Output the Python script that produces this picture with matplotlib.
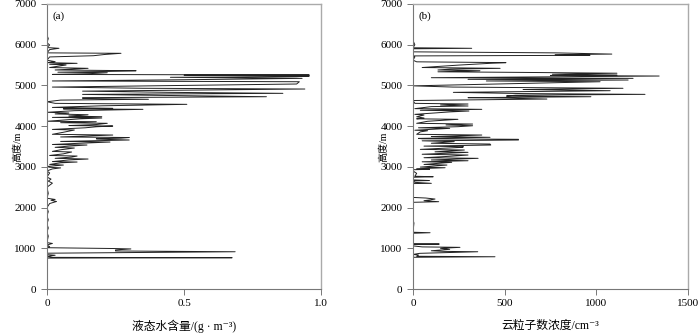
import matplotlib
matplotlib.use('Agg')
import matplotlib.pyplot as plt

plt.rcParams['font.family'] = ['Liberation Serif', 'Noto Sans CJK SC', 'DejaVu Serif']

# (a) liquid water content profile, g/m3
alt_a = [760, 769, 778, 800, 830, 845, 880, 916, 925, 935, 960, 985, 995, 1005, 1015,
         1040, 1080, 1120, 1140, 1300, 1400, 1500, 1600, 1700, 1800, 1900, 2000, 2100,
         2150, 2180, 2200, 2230, 2350, 2500, 2550, 2600, 2650, 2700, 2750, 2850, 2900,
         2950, 2975, 2990, 3010, 3045, 3060, 3100, 3119, 3130, 3170, 3193, 3210, 3240,
         3266, 3280, 3320, 3365, 3380, 3420, 3463, 3480, 3510, 3537, 3550, 3580, 3610,
         3625, 3660, 3675, 3690, 3705, 3721, 3735, 3760, 3782, 3800, 3850, 3905, 3920,
         3960, 3985, 4003, 4015, 4040, 4070, 4085, 4109, 4120, 4150, 4180, 4200, 4215,
         4232, 4250, 4280, 4300, 4323, 4340, 4380, 4413, 4425, 4438, 4460, 4500, 4536,
         4560, 4600, 4640, 4660, 4680, 4700, 4723, 4760, 4780, 4806, 4830, 4860, 4890,
         4912, 4930, 4960, 5035, 5091, 5110, 5140, 5174, 5200, 5215, 5231, 5250, 5256,
         5270, 5290, 5312, 5325, 5345, 5361, 5380, 5420, 5440, 5480, 5502, 5520, 5543,
         5560, 5584, 5620, 5700, 5730, 5760, 5789, 5800, 5880, 5912, 5930, 5993, 6050,
         6150, 6240]
lwc = [0.0, 0.675, 0.02, 0.0, 0.03, 0.0, 0.0, 0.686, 0.50, 0.25, 0.25, 0.306, 0.245, 0.12, 0.0,
       0.01, 0.0, 0.02, 0.0, 0.005, 0.0, 0.005, 0.0, 0.005, 0.0, 0.005, 0.0, 0.01,
       0.035, 0.015, 0.03, 0.0, 0.005, 0.0, 0.01, 0.02, 0.005, 0.015, 0.0, 0.01, 0.0,
       0.02, 0.05, 0.01, 0.0, 0.06, 0.01, 0.05, 0.11, 0.02, 0.08, 0.15, 0.03, 0.09,
       0.11, 0.01, 0.06, 0.09, 0.02, 0.05, 0.10, 0.03, 0.08, 0.146, 0.02, 0.12, 0.23,
       0.05, 0.30, 0.22, 0.18, 0.27, 0.30, 0.05, 0.15, 0.24, 0.02, 0.06, 0.10, 0.02,
       0.14, 0.18, 0.24, 0.08, 0.18, 0.22, 0.05, 0.18, 0.0, 0.06, 0.12, 0.20, 0.02,
       0.20, 0.08, 0.15, 0.03, 0.08, 0.0, 0.10, 0.35, 0.06, 0.24, 0.02, 0.20, 0.51,
       0.03, 0.0, 0.05, 0.37, 0.13, 0.13, 0.80, 0.35, 0.13, 0.86, 0.45, 0.13, 0.60,
       0.94, 0.35, 0.02, 0.91, 0.92, 0.02, 0.50, 0.93, 0.45, 0.91, 0.956, 0.50, 0.956,
       0.02, 0.16, 0.22, 0.04, 0.23, 0.325, 0.03, 0.15, 0.01, 0.05, 0.07, 0.01, 0.11,
       0.0, 0.03, 0.0, 0.01, 0.17, 0.21, 0.27, 0.0, 0.01, 0.044, 0.0, 0.01, 0.0,
       0.005, 0.0]

# (b) cloud droplet number concentration profile, cm-3
alt_b = [780, 793, 805, 835, 850, 877, 916, 925, 940, 975, 1000, 1024, 1035, 1060, 1095,
         1105, 1115, 1370, 1383, 1395, 1620, 1700, 2130, 2145, 2170, 2190, 2210, 2235,
         2250, 2590, 2596, 2620, 2655, 2665, 2680, 2745, 2758, 2770, 2841, 2900, 2930,
         2940, 2955, 2979, 2995, 3045, 3060, 3112, 3125, 3151, 3170, 3210, 3225, 3260,
         3291, 3310, 3357, 3370, 3414, 3430, 3480, 3495, 3510, 3537, 3561, 3580, 3620,
         3640, 3660, 3677, 3690, 3700, 3726, 3745, 3760, 3782, 3800, 3860, 3888, 3900,
         3946, 3960, 3987, 4010, 4030, 4052, 4070, 4120, 4168, 4180, 4200, 4230, 4273,
         4290, 4350, 4372, 4390, 4413, 4430, 4480, 4495, 4520, 4544, 4560, 4630, 4666,
         4690, 4700, 4723, 4740, 4760, 4781, 4800, 4830, 4871, 4900, 4930, 4960, 4990,
         5091, 5110, 5133, 5150, 5174, 5190, 5215, 5231, 5245, 5256, 5275, 5300, 5320,
         5335, 5361, 5380, 5400, 5420, 5440, 5500, 5525, 5543, 5560, 5580, 5620, 5700,
         5725, 5740, 5755, 5770, 5800, 5825, 5900, 5912, 5925, 6000, 6100, 6238]
ndc = [0, 447, 20, 30, 0, 37, 353, 170, 100, 200, 150, 256, 50, 0, 0,
       143, 0, 0, 93, 0, 5, 0, 0, 140, 60, 95, 120, 70,
       0, 0, 100, 10, 0, 90, 0, 0, 110, 10, 20, 0, 0,
       90, 20, 175, 40, 185, 60, 211, 50, 300, 100, 355, 60, 200,
       300, 50, 300, 120, 280, 40, 270, 275, 60, 424, 420, 100, 225,
       50, 575, 575, 50, 30, 420, 100, 230, 375, 20, 40, 80, 10,
       200, 30, 245, 325, 180, 325, 20, 80, 245, 20, 60, 20, 60,
       10, 200, 305, 40, 375, 10, 100, 300, 150, 300, 10, 0, 730,
       500, 300, 970, 510, 560, 1265, 600, 220, 1075, 600, 1145, 218, 0,
       1020, 400, 1173, 300, 1200, 100, 900, 1342, 750, 1112, 760, 1112, 600,
       136, 365, 136, 200, 475, 50, 250, 350, 420, 507, 20, 0, 10,
       0, 965, 775, 1084, 775, 0, 0, 320, 0, 10, 0, 0]

fig = plt.figure(figsize=(7, 3.33), dpi=100)
ax1 = fig.add_axes([0.067, 0.132, 0.392, 0.856])
ax2 = fig.add_axes([0.590, 0.132, 0.393, 0.856])

panels = [(ax1, lwc, alt_a, '(a)', [0, 0.5, 1.0], ['0', '0.5', '1.0'], 1.0,
           '液态水含量/(g · m⁻³)'),
          (ax2, ndc, alt_b, '(b)', [0, 500, 1000, 1500], ['0', '500', '1000', '1500'], 1500,
           '云粒子数浓度/cm⁻³')]

for ax, xv, yv, tag, xt, xtl, xmax, xlab in panels:
    ax.plot(xv, yv, color='#222222', lw=0.7)
    ax.set_xlim(0, xmax)
    ax.set_ylim(0, 7000)
    ax.set_yticks(range(0, 7001, 1000))
    ax.set_xticks(xt)
    ax.set_xticklabels(xtl)
    ax.tick_params(direction='out', length=4, width=0.7, colors='#777777',
                   labelcolor='black', labelsize=8)
    for s in ['left', 'bottom']:
        ax.spines[s].set_color('#777777')
        ax.spines[s].set_linewidth(0.8)
    for s in ['top', 'right']:
        ax.spines[s].set_color('#aaaaaa')
        ax.spines[s].set_linewidth(1.0)
    ax.text(0.02, 0.975, tag, transform=ax.transAxes, fontsize=8, va='top', ha='left')
    ax.set_xlabel(xlab, fontsize=8.5, labelpad=8)
    ax.set_ylabel('高度/m', fontsize=7.2)
    ax.yaxis.set_label_coords(-0.09, 0.5)

fig.savefig('out.png', dpi=100)
